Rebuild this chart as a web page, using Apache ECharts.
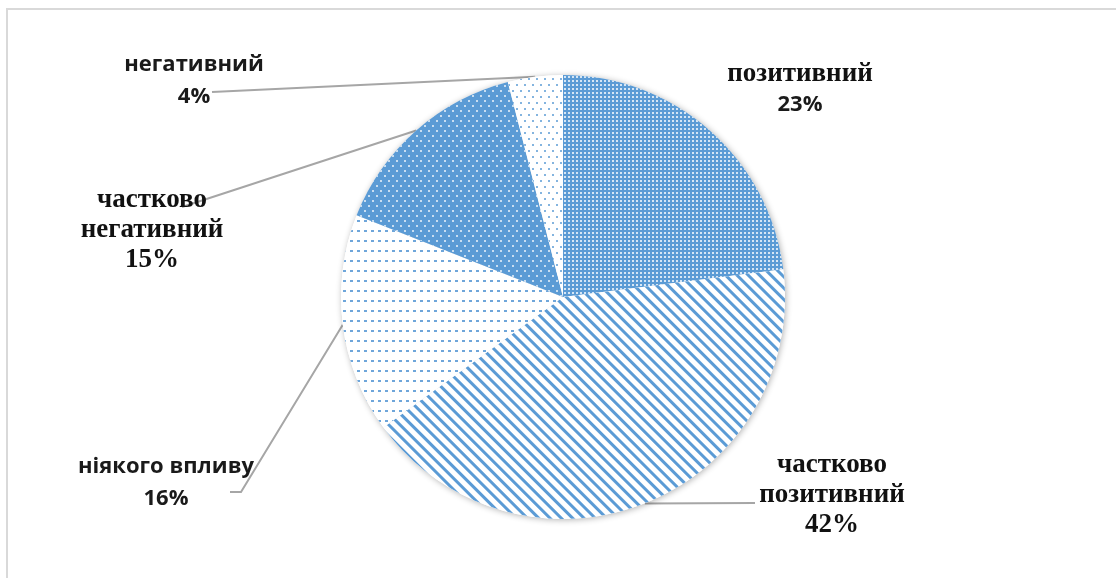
<!DOCTYPE html>
<html lang="uk">
<head>
    <meta charset="UTF-8">
    <title>Pie</title>
    <script src="https://cdn.jsdelivr.net/npm/echarts@6/dist/echarts.min.js"></script>
    <style>html, body { margin: 0; background: #fff; }</style>
</head>
<body>
<div id="chartmain" style="width:1116px; height:578px;"></div>
<script type="text/javascript">
    var categories = ['позитивний', 'частково позитивний', 'ніякого впливу', 'частково негативний', 'негативний'];
    var values = [23, 42, 16, 15, 4];

    // which font each label line uses
    var nameFont = ['ser', 'ser', 'sans', 'ser', 'sans'];
    var pctFont = ['sans', 'ser', 'sans', 'ser', 'sans'];

    var blue = '#5b9bd5';

    // label centres and where leader lines meet the labels
    var labelSpots = [
        {x: 800, y: 90, line: null},
        {x: 832, y: 495, line: [[755, 503]]},
        {x: 166, y: 483, line: [[241, 492], [230, 492]]},
        {x: 152, y: 230, line: [[182, 207]]},
        {x: 194, y: 81, line: [[212, 92]]}
    ];

    var fills = ['#5b9bd5', '#ffffff', '#ffffff', '#5b9bd5', '#ffffff'];
    var decals = [
        {color: 'rgba(255,255,255,0.75)', symbol: 'rect', symbolSize: 1, dashArrayX: [2, 2], dashArrayY: [2, 2]},
        {color: blue, symbol: 'rect', symbolSize: 1, dashArrayX: [1, 0], dashArrayY: [3, 5], rotation: Math.PI / 4},
        {color: '#6fa6da', symbol: 'rect', symbolSize: 1, dashArrayX: [3, 4], dashArrayY: [2, 8]},
        {color: 'rgba(255,255,255,0.9)', symbol: 'circle', symbolSize: 1, dashArrayX: [[2, 6], [0, 4, 2, 2]], dashArrayY: [2, 3]},
        {color: blue, symbol: 'circle', symbolSize: 1, dashArrayX: [[2, 6], [0, 4, 2, 2]], dashArrayY: [2, 4]}
    ];

    var pieData = categories.map(function (name, i) {
        return {
            name: name,
            value: values[i],
            itemStyle: {color: fills[i], decal: decals[i]},
            labelLine: {show: labelSpots[i].line !== null}
        };
    });

    var shadowData = categories.map(function (name, i) {
        return {name: name, value: values[i]};
    });

    var myChart = echarts.init(document.getElementById('chartmain'));
    myChart.setOption({
        animation: false,
        graphic: [{
            type: 'rect',
            shape: {x: 7, y: 9, width: 1140, height: 620},
            style: {fill: 'none', stroke: '#d9d9d9', lineWidth: 2}
        }],
        series: [{
            // plain copy underneath, only to cast the soft shadow
            type: 'pie',
            silent: true,
            center: [563, 297],
            radius: 222,
            startAngle: 90,
            label: {show: false},
            labelLine: {show: false},
            itemStyle: {color: '#fff', shadowBlur: 6, shadowColor: 'rgba(0,0,0,0.3)', shadowOffsetX: 1, shadowOffsetY: 1},
            data: shadowData
        }, {
            type: 'pie',
            center: [563, 297],
            radius: 222,
            startAngle: 90,
            avoidLabelOverlap: false,
            label: {
                show: true,
                position: 'outside',
                color: '#1a1a1a',
                formatter: function (p) {
                    var i = p.dataIndex;
                    var name = p.name.replace('частково ', 'частково\n');
                    var lines = name.split('\n').map(function (t) {
                        return '{' + nameFont[i] + '|' + t + '}';
                    });
                    lines.push('{' + pctFont[i] + '|' + p.value + '%}');
                    return lines.join('\n');
                },
                rich: {
                    ser: {fontFamily: 'Liberation Serif', fontWeight: 'bold', fontSize: 27, lineHeight: 30, color: '#111'},
                    sans: {fontFamily: 'Open Sans', fontWeight: 'bold', fontSize: 22, lineHeight: 32, color: '#1a1a1a'}
                }
            },
            labelLine: {
                lineStyle: {color: '#a6a6a6', width: 2}
            },
            labelLayout: function (params) {
                var spot = labelSpots[params.dataIndex];
                var out = {x: spot.x, y: spot.y, align: 'center', verticalAlign: 'middle'};
                if (spot.line && params.labelLinePoints) {
                    out.labelLinePoints = [params.labelLinePoints[0]].concat(spot.line);
                }
                return out;
            },
            data: pieData
        }]
    });
</script>
</body>
</html>
